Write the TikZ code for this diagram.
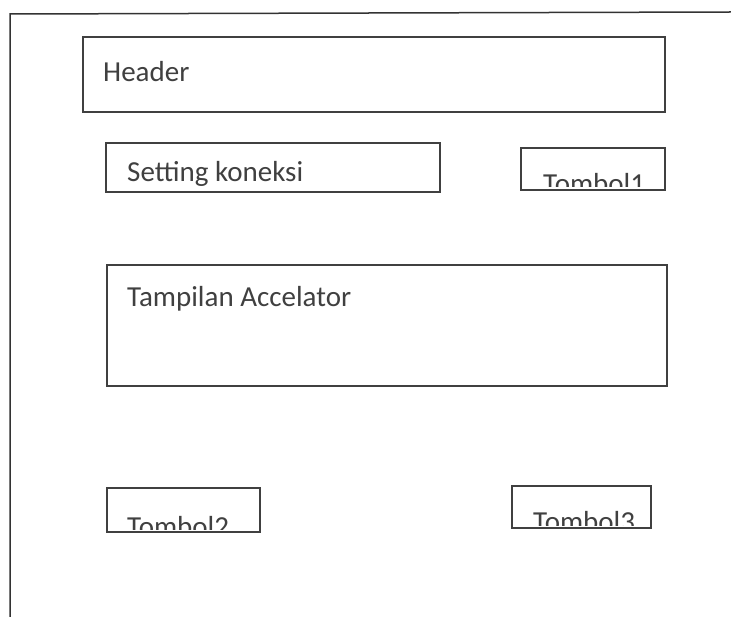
\documentclass[tikz,border=0pt]{standalone}
\usepackage{fontspec}
\setmainfont{Carlito}
\usetikzlibrary{fit}
\begin{document}
\begin{tikzpicture}[x=1pt,y=-1pt,
  box/.style={draw=black!75, line width=1.4pt, inner sep=0pt},
  lbl/.style={anchor=base west, inner sep=0pt, text=black!75, font=\fontsize{29}{33}\selectfont}]
\useasboundingbox[fill=white] (0,0) rectangle (731,617);
% outer frame
\coordinate (ftl) at (10,14);
\coordinate (ftr) at (731,12);
\coordinate (fbl) at (10,617);
\draw[black!80, line width=1.5pt] (fbl) -- (ftl) -- (ftr);
% boxes
\node[box, fit={(83,37) (665,112)}] (header) {};
\node[box, fit={(106,143) (440,192)}] (setting) {};
\node[box, fit={(521,148) (665,190)}] (t1) {};
\node[box, fit={(107,265) (667,386)}] (tampil) {};
\node[box, fit={(107,488) (260,532)}] (t2) {};
\node[box, fit={(512,486) (651,528)}] (t3) {};
% labels
\node[lbl] (headerlbl) at (103,82) {Header};
\node[lbl] (settinglbl) at (127,182) {Setting koneksi};
\node[lbl] (tampillbl) at (127,307) {Tampilan Accelator};
\begin{scope}
\clip (521,148) rectangle (665,187);
\node[lbl] (t1lbl) at (543,194) {Tombol1};
\end{scope}
\begin{scope}
\clip (107,488) rectangle (260,529);
\node[lbl] (t2lbl) at (127,536) {Tombol2};
\end{scope}
\begin{scope}
\clip (512,486) rectangle (651,525);
\node[lbl] (t3lbl) at (533,531) {Tombol3};
\end{scope}
\end{tikzpicture}
\end{document}
